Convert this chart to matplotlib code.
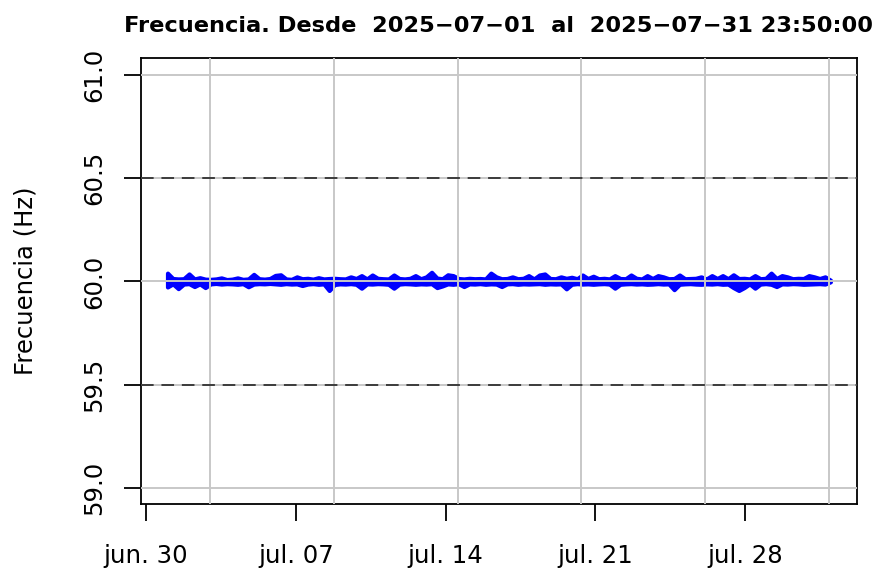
import numpy as np
import pandas as pd
import matplotlib
matplotlib.use("Agg")
import matplotlib.pyplot as plt

desv_alta = [40, 14, 12, 13, 36, 12, 18, 11, 10, 12, 17, 9, 11, 17, 10, 12,
             34, 13, 11, 14, 29, 32, 12, 10, 22, 13, 15, 11, 18, 12, 14, 15,
             13, 12, 22, 14, 28, 12, 31, 15, 13, 12, 31, 14, 12, 15, 28, 13,
             22, 44, 16, 13, 32, 28, 14, 12, 15, 13, 14, 12, 40, 22, 13, 14,
             22, 13, 15, 28, 12, 31, 36, 14, 13, 22, 15, 20, 13, 31, 14, 25,
             13, 15, 12, 28, 14, 13, 31, 15, 12, 28, 14, 28, 22, 13, 14, 31,
             13, 14, 15, 22, 12, 28, 14, 28, 13, 32, 14, 15, 12, 28, 13, 15,
             40, 14, 28, 22, 13, 15, 14, 28, 22, 14, 22, 6]
desv_baja = [-27, -12, -35, -13, -11, -25, -12, -30, -12, -10, -13, -11, -12, -14, -11, -26,
             -13, -11, -12, -10, -12, -14, -11, -13, -12, -20, -13, -11, -14, -12, -44, -15,
             -12, -13, -11, -14, -33, -12, -13, -11, -12, -14, -33, -13, -11, -12, -14, -12,
             -13, -11, -30, -22, -12, -14, -11, -25, -12, -13, -11, -14, -12, -13, -25, -12,
             -11, -14, -12, -13, -12, -11, -14, -12, -13, -12, -36, -14, -11, -13, -12, -14,
             -12, -11, -13, -33, -14, -12, -11, -13, -12, -14, -13, -11, -13, -12, -40, -14,
             -12, -11, -13, -14, -12, -13, -11, -14, -13, -30, -44, -30, -12, -33, -13, -11,
             -14, -25, -12, -13, -11, -12, -14, -13, -12, -11, -13, -2]

inicio = "2025-07-01 00:00"
fin = "2025-07-31 23:50"
fechas_x = ["2025-06-30", "2025-07-07", "2025-07-14", "2025-07-21", "2025-07-28"]
etiquetas_x = ["jun. 30", "jul. 07", "jul. 14", "jul. 21", "jul. 28"]
ticks_y = [59.0, 59.5, 60.0, 60.5, 61.0]
lineas_lim = [59.5, 60.5]
titulo = "Frecuencia. Desde  2025\u221207\u221201  al  2025\u221207\u221231 23:50:00"

alta = 60 + np.array(desv_alta) / 1000
baja = 60 + np.array(desv_baja) / 1000
tiempos = pd.date_range(inicio, fin, periods=len(alta))
dias = (tiempos - pd.Timestamp("1970-01-01")).total_seconds().values / 86400.0
ticks_dias = (pd.to_datetime(fechas_x) - pd.Timestamp("1970-01-01")).total_seconds().values / 86400.0

fig = plt.figure(figsize=(8.8, 5.79), dpi=100)
ax = fig.add_axes([0.1602, 0.1287, 0.8136, 0.7706])

# banda de la serie (max/min) con borde grueso
ax.fill_between(dias, baja, alta, facecolor="#0000FF", edgecolor="#0000FF",
                lw=3.0, joinstyle="round", zorder=2)

span = dias[-1] - dias[0]
xlo, xhi = dias[0] - 0.04 * span, dias[-1] + 0.04 * span
ax.set_xlim(xlo, xhi)
ax.set_ylim(59 - 0.08, 61 + 0.08)

# grid como en R: pasos "pretty" de 500000 s
paso = 500000.0
gx = np.arange(np.ceil(xlo * 86400 / paso), np.floor(xhi * 86400 / paso) + 1) * paso / 86400
for g in gx:
    ax.axvline(g, color="#c8c8c8", lw=1.4, zorder=3)
for y in ticks_y:
    ax.axhline(y, color="#c8c8c8", lw=1.4, zorder=3)
for y in lineas_lim:
    ax.axhline(y, color="#3c3c3c", lw=1.4, ls=(0, (6.5, 4)), zorder=4)

ax.set_xticks(ticks_dias)
ax.set_xticklabels(etiquetas_x)
ax.set_yticks(ticks_y)
ax.set_yticklabels(["%.1f" % v for v in ticks_y], rotation=90, va="center", ha="right")
ax.tick_params(axis="both", length=12.2, width=1.3, labelsize=17.6, color="black")
ax.tick_params(axis="x", pad=16.5)
ax.tick_params(axis="y", pad=13)
for s in ax.spines.values():
    s.set_linewidth(1.3)

ax.set_title(titulo, fontsize=16.2, fontweight="bold", pad=19)
fig.text(0.029, 0.5146, "Frecuencia (Hz)", rotation=90, ha="center", va="center", fontsize=17.5)

fig.savefig("out.png", dpi=100)
